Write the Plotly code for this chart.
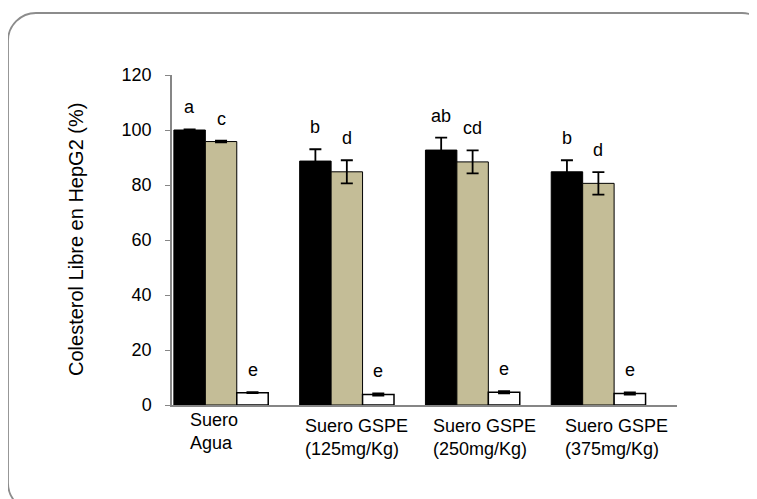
import plotly.graph_objects as go

# ---- data ----
categories = ["Suero<br>Agua", "Suero GSPE<br>(125mg/Kg)", "Suero GSPE<br>(250mg/Kg)", "Suero GSPE<br>(375mg/Kg)"]
black_vals = [100.0, 88.7, 92.7, 84.8]
black_err = [0.2, 4.3, 4.5, 4.2]
tan_vals = [95.8, 84.8, 88.4, 80.6]
tan_err = [0.3, 4.2, 4.2, 4.1]
white_vals = [4.5, 3.8, 4.6, 4.2]
white_err = [0.2, 0.4, 0.4, 0.4]
black_letters = ["a", "b", "ab", "b"]
tan_letters = ["c", "d", "cd", "d"]
white_letters = ["e", "e", "e", "e"]
y_ticks = [0, 20, 40, 60, 80, 100, 120]
y_title = "Colesterol Libre en HepG2 (%)"

# ---- layout constants (page has an 8px body margin) ----
OFF = 8
W, H = 757 - OFF, 499 - OFF
L, T = 172 - OFF, 75 - OFF
R, B = W - (677 - OFF), H - (405 - OFF)
PW, PH = W - L - R, H - T - B
BARGAP = 0.25
FONT = "Liberation Sans, Arial, sans-serif"
label_dx = [-33, -44, -42, -35]
label_dy = [-3, -9, -9, -9]

x = list(range(len(categories)))
series = [
    (black_vals, black_err, black_letters, "#000000", 1.0),
    (tan_vals, tan_err, tan_letters, "#C4BD97", 1.0),
    (white_vals, white_err, white_letters, "#FFFFFF", 1.5),
]

fig = go.Figure()
for vals, errs, _, color, lw in series:
    fig.add_trace(go.Bar(
        x=x, y=vals,
        marker=dict(color=color, line=dict(color="black", width=lw)),
        error_y=dict(type="data", array=errs, visible=True, color="black", thickness=1.8, width=6),
        hoverinfo="skip",
    ))

# letters above bars
w = (1 - BARGAP) / len(series)
annotations = []
for k, (vals, errs, letters, _, _) in enumerate(series):
    off = (k - (len(series) - 1) / 2) * w
    for i in x:
        annotations.append(dict(
            x=i + off, y=vals[i] + errs[i], xref="x", yref="y",
            text=letters[i], showarrow=False, yanchor="middle", xanchor="center",
            yshift=22, font=dict(family=FONT, size=18, color="black"),
        ))

# category labels
for i, cat in enumerate(categories):
    annotations.append(dict(
        x=i, y=0, xref="x", yref="y", text=cat, showarrow=False,
        xanchor="left", yanchor="top", align="left",
        xshift=label_dx[i], yshift=label_dy[i],
        font=dict(family=FONT, size=18, color="black"),
    ))

# y axis title
annotations.append(dict(
    x=(76 - OFF - L) / PW, y=0.5, xref="paper", yref="paper", text=y_title,
    showarrow=False, textangle=-90, xanchor="center", yanchor="middle",
    font=dict(family=FONT, size=20, color="black"),
))

# rounded border (screen pixel coords converted to paper coords)
def fmt(px, py):
    a = (px - OFF - L) / PW
    b = (T + PH - (py - OFF)) / PH
    return f"{a:.5f},{b:.5f}"

x0, y0, x1, y1, r = 8, 13, 770, 511, 28
k = 0.5523 * r
path = (
    f"M {fmt(x0 + r, y0)} L {fmt(x1 - r, y0)} "
    f"C {fmt(x1 - r + k, y0)} {fmt(x1, y0 + r - k)} {fmt(x1, y0 + r)} "
    f"L {fmt(x1, y1 - r)} "
    f"C {fmt(x1, y1 - r + k)} {fmt(x1 - r + k, y1)} {fmt(x1 - r, y1)} "
    f"L {fmt(x0 + r, y1)} "
    f"C {fmt(x0 + r - k, y1)} {fmt(x0, y1 - r + k)} {fmt(x0, y1 - r)} "
    f"L {fmt(x0, y0 + r)} "
    f"C {fmt(x0, y0 + r - k)} {fmt(x0 + r - k, y0)} {fmt(x0 + r, y0)} Z"
)

fig.update_layout(
    width=W, height=H,
    margin=dict(l=L, r=R, t=T, b=B, pad=0),
    plot_bgcolor="white", paper_bgcolor="white",
    barmode="group", bargap=BARGAP, bargroupgap=0,
    showlegend=False,
    font=dict(family=FONT, size=18, color="black"),
    xaxis=dict(range=[-0.39, 3.625], showticklabels=False, ticks="",
               showline=True, linecolor="#868686", linewidth=1.5,
               showgrid=False, zeroline=False, fixedrange=True),
    yaxis=dict(range=[0, 120], tickvals=y_ticks, ticks="outside", ticklen=5,
               tickcolor="#868686", tickwidth=1.2, showline=True,
               linecolor="#868686", linewidth=1.5, showgrid=False,
               zeroline=False, ticklabelstandoff=10,
               tickfont=dict(family=FONT, size=18, color="black"), fixedrange=True),
    annotations=annotations,
    shapes=[dict(type="path", path=path, xref="paper", yref="paper",
                 line=dict(color="#8C8C8C", width=1.8), layer="below")],
)

fig.write_html("out.html")
